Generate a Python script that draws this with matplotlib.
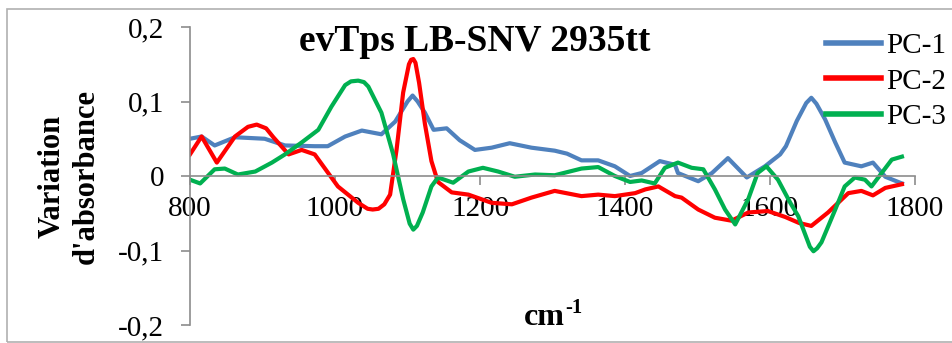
import matplotlib
matplotlib.use("Agg")
import matplotlib.pyplot as plt
from matplotlib.patches import Rectangle

plt.rcParams['font.family'] = ['Liberation Serif', 'DejaVu Serif']

# PC-1 (blue)
pc1_wn = [800, 816, 834, 862, 903, 931, 972, 990, 1014, 1037, 1064, 1083, 1100,
          1107, 1114, 1124, 1136, 1154, 1172, 1193, 1216, 1241, 1271, 1303, 1320,
          1340, 1363, 1386, 1407, 1423, 1448, 1469, 1473, 1501, 1520, 1542, 1568,
          1593, 1614, 1622, 1637, 1650, 1657, 1664, 1676, 1690, 1703, 1726, 1742,
          1759, 1782]
pc1_val = [0.050, 0.053, 0.041, 0.052, 0.050, 0.041, 0.040, 0.040, 0.053, 0.061,
           0.056, 0.073, 0.100, 0.108, 0.100, 0.085, 0.062, 0.064, 0.048, 0.035,
           0.038, 0.044, 0.038, 0.034, 0.030, 0.021, 0.021, 0.013, 0.000, 0.004,
           0.020, 0.015, 0.004, -0.007, 0.004, 0.024, -0.002, 0.013, 0.029, 0.040,
           0.074, 0.098, 0.105, 0.097, 0.076, 0.045, 0.018, 0.013, 0.018, -0.001,
           -0.010]

# PC-2 (red)
pc2_wn = [800, 816, 837, 862, 880, 892, 905, 915, 936, 954, 972, 1004, 1032,
          1045, 1052, 1060, 1068, 1076, 1085, 1094, 1102, 1105, 1108, 1111, 1116,
          1124, 1133, 1142, 1161, 1184, 1216, 1244, 1271, 1303, 1340, 1363, 1386,
          1414, 1428, 1446, 1469, 1478, 1501, 1524, 1547, 1570, 1597, 1621, 1640,
          1657, 1680, 1708, 1726, 1742, 1759, 1782]
pc2_val = [0.029, 0.053, 0.018, 0.053, 0.066, 0.069, 0.064, 0.052, 0.029, 0.035,
           0.029, -0.014, -0.036, -0.044, -0.045, -0.044, -0.038, -0.025, 0.036,
           0.112, 0.150, 0.156, 0.157, 0.152, 0.125, 0.070, 0.020, -0.008, -0.022,
           -0.025, -0.036, -0.038, -0.029, -0.020, -0.027, -0.025, -0.027, -0.023,
           -0.018, -0.014, -0.027, -0.029, -0.045, -0.056, -0.060, -0.049, -0.047,
           -0.055, -0.063, -0.067, -0.049, -0.023, -0.020, -0.026, -0.016, -0.011]

# PC-3 (green)
pc3_wn = [800, 814, 834, 848, 866, 890, 913, 931, 954, 977, 995, 1014, 1022,
          1032, 1040, 1046, 1064, 1080, 1094, 1103, 1108, 1113, 1121, 1133, 1142,
          1163, 1184, 1204, 1225, 1248, 1276, 1303, 1340, 1363, 1386, 1407, 1423,
          1441, 1455, 1473, 1492, 1508, 1524, 1538, 1552, 1570, 1583, 1595, 1611,
          1628, 1639, 1655, 1660, 1665, 1671, 1690, 1703, 1717, 1731, 1740, 1754,
          1768, 1782]
pc3_val = [-0.005, -0.010, 0.009, 0.010, 0.002, 0.006, 0.018, 0.029, 0.045, 0.062,
           0.093, 0.122, 0.127, 0.128, 0.126, 0.120, 0.085, 0.030, -0.031, -0.064,
           -0.072, -0.067, -0.049, -0.014, -0.002, -0.009, 0.006, 0.011, 0.006,
           -0.001, 0.002, 0.001, 0.010, 0.012, 0.000, -0.008, -0.006, -0.010, 0.011,
           0.018, 0.011, 0.009, -0.018, -0.045, -0.065, -0.031, 0.004, 0.013, -0.005,
           -0.036, -0.054, -0.095, -0.101, -0.097, -0.089, -0.045, -0.014, -0.002,
           -0.005, -0.014, 0.004, 0.022, 0.026]

x_ticks = [800, 1000, 1200, 1400, 1600, 1800]
y_ticks = [-0.2, -0.1, 0, 0.1, 0.2]
y_labels = ['-0,2', '-0,1', '0', '0,1', '0,2']

gray = '#8c8c8c'

fig = plt.figure(figsize=(9.52, 3.43), dpi=100)
ax = fig.add_axes([190 / 952, 1 - 325 / 343, 725 / 952, 298 / 343])

ax.plot(pc1_wn, pc1_val, color='#4F81BD', lw=3, label='PC-1', solid_joinstyle='round')
ax.plot(pc2_wn, pc2_val, color='#FF0000', lw=3, label='PC-2', solid_joinstyle='round')
ax.plot(pc3_wn, pc3_val, color='#00B050', lw=3, label='PC-3', solid_joinstyle='round')

ax.set_xlim(800, 1800)
ax.set_ylim(-0.2, 0.2)
ax.spines['top'].set_visible(False)
ax.spines['right'].set_visible(False)
ax.spines['bottom'].set_position(('data', 0))
for s in ('left', 'bottom'):
    ax.spines[s].set_color(gray)
    ax.spines[s].set_linewidth(1.2)

ax.set_xticks(x_ticks)
ax.set_xticklabels([str(v) for v in x_ticks])
ax.set_yticks(y_ticks)
ax.set_yticklabels(y_labels)
ax.tick_params(axis='both', direction='out', length=6.5, width=1.2, color=gray,
               labelsize=21)
ax.tick_params(axis='y', pad=12)
ax.tick_params(axis='x', pad=8)
ax.patch.set_visible(False)

leg = ax.legend(loc='upper left', bbox_to_anchor=(826 / 952, 1 - 33 / 343),
                bbox_transform=fig.transFigure, frameon=False, fontsize=21,
                handlelength=1.9, handletextpad=0.15, labelspacing=0.3,
                borderpad=0, borderaxespad=0)
for line in leg.get_lines():
    line.set_linewidth(4)

fig.text(474.5 / 952, 1 - 51 / 343, 'evTps LB-SNV 2935tt', ha='center',
         va='baseline', fontsize=27, fontweight='bold')
fig.text(69 / 952, 1 - 176 / 343, "Variation\nd'absorbance", rotation=90,
         ha='center', va='center', multialignment='center', fontsize=22,
         fontweight='bold', linespacing=1.25)
fig.text(524 / 952, 1 - 325 / 343, 'cm', ha='left', va='baseline',
         fontsize=23, fontweight='bold')
fig.text(565 / 952, 1 - 313 / 343, '-1', ha='left', va='baseline',
         fontsize=15, fontweight='bold')

fig.patches.append(Rectangle((7 / 952, 1.5 / 343), 2, 1 - 10.5 / 343,
                             transform=fig.transFigure, fill=False,
                             edgecolor='#b0b0b0', lw=1.2))

fig.savefig('out.png', dpi=100)
